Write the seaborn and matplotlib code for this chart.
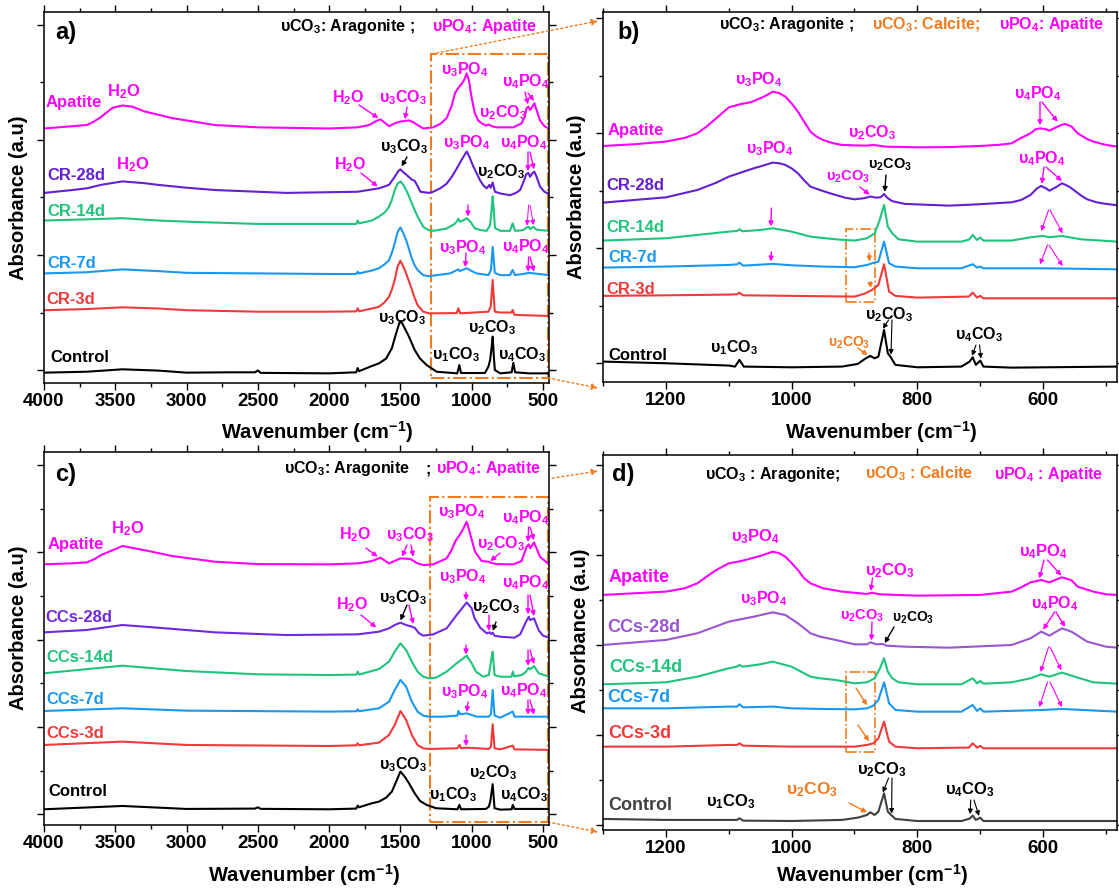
import matplotlib
matplotlib.use('Agg')
import matplotlib.pyplot as plt
import seaborn as sns
import pandas as pd
from matplotlib.ticker import MultipleLocator
from matplotlib.patches import Rectangle

# ---------------- data (wavenumber cm-1, stacked absorbance a.u.) ----------------
A_APATITE = [(4000,2.10),(3800,2.12),(3700,2.13),(3650,2.16),(3600,2.20),(3520,2.28),(3450,2.30),(3380,2.29),(3300,2.25),(3200,2.22),(3100,2.19),(2950,2.16),(2800,2.13),(2500,2.11),(2000,2.10),(1800,2.11),(1720,2.13),(1670,2.165),(1640,2.18),(1610,2.15),(1580,2.12),(1530,2.15),(1500,2.16),(1440,2.17),(1410,2.155),(1380,2.13),(1340,2.10),(1270,2.11),(1220,2.14),(1176,2.19),(1140,2.30),(1117,2.41),(1090,2.46),(1070,2.49),(1050,2.53),(1035,2.58),(1020,2.52),(1005,2.40),(990,2.30),(977,2.23),(955,2.17),(930,2.145),(900,2.125),(880,2.135),(860,2.12),(825,2.11),(708,2.11),(650,2.145),(630,2.20),(615,2.275),(603,2.29),(591,2.26),(575,2.29),(561,2.32),(545,2.26),(521,2.17),(490,2.12),(458,2.10)]
A_CR28 = [(4000,1.54),(3800,1.565),(3700,1.58),(3600,1.61),(3450,1.64),(3300,1.625),(3200,1.61),(3000,1.585),(2800,1.565),(2300,1.54),(1800,1.55),(1700,1.57),(1650,1.58),(1580,1.61),(1540,1.68),(1515,1.73),(1500,1.745),(1480,1.72),(1460,1.70),(1420,1.655),(1400,1.645),(1380,1.60),(1360,1.55),(1300,1.54),(1270,1.55),(1220,1.58),(1176,1.62),(1140,1.68),(1106,1.75),(1070,1.83),(1050,1.87),(1035,1.90),(1015,1.85),(989,1.77),(965,1.71),(942,1.65),(915,1.60),(895,1.58),(876,1.61),(867,1.585),(853,1.63),(837,1.55),(800,1.535),(732,1.52),(690,1.54),(661,1.565),(635,1.64),(619,1.70),(603,1.715),(591,1.68),(575,1.71),(561,1.725),(545,1.68),(521,1.595),(490,1.55),(458,1.53)]
A_CR14 = [(4000,1.30),(3700,1.31),(3450,1.32),(3200,1.30),(3000,1.29),(2500,1.27),(2000,1.27),(1810,1.27),(1800,1.30),(1790,1.275),(1700,1.30),(1650,1.335),(1610,1.37),(1580,1.42),(1560,1.48),(1540,1.565),(1520,1.62),(1500,1.64),(1480,1.61),(1460,1.565),(1440,1.51),(1420,1.45),(1400,1.39),(1380,1.335),(1340,1.245),(1300,1.215),(1270,1.21),(1176,1.23),(1120,1.27),(1106,1.29),(1094,1.315),(1085,1.29),(1060,1.30),(1035,1.32),(1010,1.29),(977,1.23),(930,1.215),(895,1.21),(871,1.26),(860,1.40),(853,1.51),(845,1.38),(837,1.235),(800,1.21),(732,1.21),(713,1.275),(696,1.21),(640,1.215),(615,1.24),(600,1.245),(591,1.225),(568,1.245),(545,1.22),(458,1.21)]
A_CR7 = [(4000,0.84),(3700,0.85),(3450,0.875),(3200,0.86),(3000,0.845),(2000,0.835),(1810,0.835),(1800,0.855),(1790,0.84),(1700,0.865),(1650,0.885),(1610,0.92),(1580,0.955),(1560,1.02),(1540,1.10),(1520,1.20),(1500,1.24),(1480,1.19),(1460,1.13),(1440,1.05),(1420,0.97),(1400,0.91),(1380,0.87),(1340,0.825),(1300,0.815),(1246,0.825),(1152,0.84),(1094,0.875),(1085,0.86),(1035,0.885),(1000,0.86),(965,0.84),(883,0.825),(865,0.87),(853,1.07),(845,0.95),(838,0.845),(800,0.825),(732,0.825),(713,0.87),(696,0.825),(615,0.84),(600,0.845),(565,0.84),(458,0.825)]
A_CR3 = [(4000,0.52),(3700,0.53),(3450,0.545),(3200,0.535),(3000,0.52),(2500,0.507),(2000,0.507),(1810,0.51),(1800,0.537),(1790,0.51),(1700,0.535),(1650,0.55),(1610,0.59),(1580,0.637),(1560,0.70),(1540,0.783),(1520,0.90),(1500,0.95),(1480,0.90),(1460,0.84),(1440,0.77),(1420,0.70),(1400,0.625),(1380,0.565),(1340,0.507),(1300,0.493),(1270,0.493),(1105,0.495),(1094,0.537),(1080,0.493),(883,0.507),(867,0.55),(853,0.783),(845,0.62),(838,0.507),(800,0.50),(720,0.50),(713,0.522),(700,0.48),(600,0.475),(458,0.47)]
A_CONTROL = [(4000,-0.023),(3700,-0.015),(3450,0.006),(3200,-0.005),(3000,-0.023),(2700,-0.02),(2520,-0.02),(2500,-0.004),(2480,-0.025),(2000,-0.029),(1810,-0.02),(1800,0.017),(1790,-0.01),(1700,0.035),(1650,0.058),(1600,0.10),(1560,0.19),(1530,0.32),(1510,0.40),(1500,0.426),(1485,0.40),(1470,0.363),(1440,0.29),(1400,0.174),(1363,0.10),(1316,0.043),(1246,-0.015),(1101,-0.029),(1087,0.043),(1075,-0.026),(907,-0.026),(883,0.029),(871,0.087),(860,0.20),(853,0.29),(845,0.12),(838,0.0),(800,-0.029),(720,-0.02),(708,0.063),(696,-0.02),(600,-0.029),(458,-0.029)]

B_APATITE = [(1300,1.890),(1250,1.905),(1200,1.928),(1170,1.96),(1150,2.00),(1135,2.06),(1120,2.13),(1100,2.226),(1080,2.255),(1065,2.27),(1050,2.304),(1040,2.33),(1030,2.362),(1020,2.35),(1010,2.319),(1000,2.26),(990,2.188),(980,2.10),(970,2.014),(960,1.97),(950,1.942),(935,1.915),(920,1.899),(900,1.895),(880,1.893),(870,1.899),(850,1.884),(800,1.878),(750,1.88),(700,1.890),(670,1.90),(650,1.913),(635,1.96),(620,2.0),(612,2.035),(605,2.043),(595,2.035),(590,2.023),(580,2.05),(570,2.075),(565,2.081),(555,2.06),(545,2.0),(530,1.95),(520,1.928),(500,1.899),(482,1.884)]
B_CR28 = [(1300,1.397),(1250,1.42),(1200,1.443),(1150,1.507),(1120,1.57),(1100,1.623),(1080,1.66),(1060,1.696),(1045,1.72),(1030,1.745),(1020,1.74),(1010,1.725),(1000,1.695),(990,1.652),(980,1.59),(970,1.536),(955,1.507),(940,1.48),(930,1.464),(915,1.44),(900,1.426),(885,1.435),(875,1.45),(865,1.44),(858,1.445),(853,1.472),(848,1.44),(840,1.41),(820,1.386),(750,1.371),(712,1.38),(650,1.40),(635,1.42),(620,1.464),(610,1.52),(603,1.542),(595,1.52),(590,1.501),(580,1.53),(570,1.565),(560,1.54),(555,1.522),(540,1.46),(530,1.426),(515,1.40),(500,1.386),(482,1.374)]
B_CR14 = [(1300,1.067),(1200,1.087),(1150,1.116),(1100,1.145),(1087,1.15),(1083,1.165),(1078,1.148),(1050,1.159),(1030,1.174),(1000,1.145),(970,1.101),(930,1.078),(900,1.067),(880,1.087),(868,1.13),(860,1.246),(853,1.377),(847,1.188),(840,1.13),(830,1.078),(800,1.058),(730,1.058),(718,1.075),(712,1.116),(705,1.072),(700,1.093),(695,1.067),(650,1.067),(620,1.096),(600,1.107),(590,1.096),(570,1.107),(540,1.078),(482,1.058)]
B_CR7 = [(1300,0.832),(1200,0.841),(1100,0.855),(1087,0.86),(1083,0.875),(1077,0.849),(1030,0.864),(1000,0.852),(950,0.841),(900,0.835),(880,0.855),(872,0.870),(862,0.884),(853,1.058),(845,0.870),(835,0.841),(800,0.826),(730,0.826),(712,0.861),(705,0.832),(700,0.841),(695,0.826),(600,0.826),(482,0.817)]
B_CR3 = [(1300,0.586),(1200,0.591),(1100,0.597),(1087,0.60),(1083,0.614),(1077,0.591),(1000,0.586),(900,0.580),(885,0.603),(872,0.638),(862,0.681),(853,0.861),(845,0.623),(835,0.586),(800,0.571),(718,0.58),(712,0.614),(705,0.571),(700,0.586),(695,0.565),(482,0.565)]
B_CONTROL = [(1300,0.0145),(1200,0.0),(1100,-0.020),(1090,-0.029),(1083,0.029),(1076,-0.029),(1000,-0.035),(920,-0.029),(895,-0.006),(882,0.043),(875,0.064),(868,0.043),(862,0.058),(853,0.290),(847,0.087),(843,0.058),(835,-0.014),(800,-0.035),(730,-0.029),(717,0.014),(712,0.052),(707,-0.014),(700,0.023),(695,-0.029),(650,-0.038),(482,-0.029)]

C_APATITE = [(4000,2.863),(3800,2.875),(3700,2.885),(3650,2.92),(3600,2.969),(3450,3.073),(3300,3.027),(3100,2.958),(2800,2.893),(2500,2.866),(2000,2.863),(1800,2.874),(1700,2.901),(1640,2.939),(1580,2.874),(1500,2.931),(1430,2.924),(1380,2.874),(1340,2.855),(1270,2.863),(1176,2.931),(1140,3.03),(1117,3.122),(1070,3.237),(1035,3.351),(1012,3.218),(977,3.008),(930,2.901),(880,2.893),(865,2.88),(825,2.866),(708,2.863),(650,2.901),(615,3.065),(600,3.092),(590,3.046),(563,3.115),(521,2.950),(458,2.863)]
C_CCS28 = [(4000,2.084),(3700,2.111),(3450,2.168),(3200,2.137),(2800,2.084),(2300,2.053),(1800,2.061),(1650,2.092),(1580,2.130),(1540,2.168),(1500,2.195),(1460,2.168),(1420,2.149),(1400,2.137),(1370,2.073),(1340,2.046),(1270,2.061),(1176,2.130),(1106,2.282),(1035,2.427),(1000,2.359),(980,2.244),(940,2.137),(895,2.073),(876,2.084),(865,2.065),(853,2.08),(840,2.046),(800,2.034),(700,2.023),(660,2.061),(619,2.206),(600,2.263),(591,2.225),(563,2.244),(530,2.107),(500,2.046),(458,2.023)]
C_CCS14 = [(4000,1.615),(3450,1.702),(3000,1.641),(2500,1.603),(2000,1.595),(1810,1.60),(1800,1.634),(1790,1.60),(1650,1.664),(1580,1.748),(1540,1.863),(1500,1.958),(1460,1.882),(1420,1.748),(1380,1.634),(1340,1.576),(1300,1.557),(1250,1.565),(1176,1.634),(1106,1.729),(1035,1.817),(1000,1.729),(970,1.634),(920,1.576),(880,1.595),(860,1.80),(853,1.863),(845,1.70),(840,1.595),(800,1.576),(720,1.576),(712,1.634),(700,1.58),(650,1.595),(619,1.634),(600,1.679),(590,1.660),(563,1.698),(530,1.615),(458,1.576)]
C_CCS7 = [(4000,1.183),(3450,1.214),(3000,1.187),(2000,1.176),(1810,1.18),(1800,1.202),(1790,1.18),(1650,1.214),(1580,1.290),(1540,1.424),(1500,1.538),(1460,1.462),(1420,1.290),(1380,1.176),(1340,1.130),(1300,1.118),(1200,1.118),(1100,1.13),(1094,1.183),(1080,1.145),(1035,1.156),(965,1.118),(880,1.118),(865,1.145),(853,1.424),(840,1.13),(800,1.107),(712,1.176),(700,1.118),(615,1.118),(458,1.118)]
C_CCS3 = [(4000,0.794),(3450,0.832),(3000,0.794),(2000,0.782),(1810,0.79),(1800,0.813),(1790,0.79),(1650,0.821),(1580,0.908),(1540,1.023),(1500,1.183),(1460,1.080),(1420,0.908),(1380,0.794),(1340,0.756),(1300,0.748),(1100,0.756),(1085,0.794),(1075,0.756),(1035,0.763),(880,0.748),(865,0.775),(853,1.031),(840,0.756),(800,0.744),(712,0.786),(700,0.744),(458,0.737)]
C_CONTROL = [(4000,0.057),(3450,0.095),(3000,0.061),(2520,0.065),(2500,0.08),(2480,0.062),(2000,0.057),(1810,0.065),(1800,0.099),(1790,0.08),(1700,0.126),(1650,0.145),(1600,0.191),(1560,0.260),(1530,0.374),(1500,0.489),(1470,0.431),(1440,0.355),(1400,0.240),(1363,0.153),(1316,0.107),(1250,0.069),(1100,0.057),(1087,0.107),(1075,0.057),(900,0.061),(880,0.088),(870,0.145),(853,0.344),(840,0.069),(800,0.053),(720,0.057),(712,0.107),(700,0.061),(458,0.061)]

D_APATITE = [(1300,2.556),(1200,2.593),(1170,2.63),(1150,2.685),(1135,2.76),(1120,2.833),(1100,2.907),(1080,2.933),(1050,2.989),(1030,3.037),(1020,3.02),(1010,2.981),(1000,2.91),(990,2.833),(980,2.74),(970,2.685),(950,2.630),(920,2.593),(880,2.567),(872,2.581),(860,2.563),(800,2.548),(700,2.556),(650,2.593),(635,2.64),(620,2.696),(603,2.722),(590,2.696),(570,2.752),(555,2.72),(545,2.648),(520,2.593),(500,2.563),(482,2.556)]
D_CCS28 = [(1300,2.0),(1200,2.056),(1150,2.130),(1100,2.259),(1060,2.315),(1030,2.363),(1010,2.333),(990,2.241),(970,2.130),(955,2.093),(930,2.056),(900,2.007),(880,2.007),(875,2.030),(865,2.007),(855,2.011),(850,1.993),(820,1.981),(750,1.970),(650,2.0),(620,2.074),(603,2.148),(590,2.104),(570,2.185),(555,2.148),(530,2.037),(500,1.981),(482,1.970)]
D_CCS14 = [(1300,1.563),(1200,1.585),(1150,1.648),(1100,1.741),(1087,1.76),(1083,1.778),(1078,1.759),(1050,1.785),(1030,1.815),(1000,1.759),(970,1.648),(955,1.630),(930,1.611),(900,1.574),(880,1.585),(868,1.630),(860,1.733),(853,1.852),(847,1.704),(840,1.630),(830,1.585),(800,1.563),(730,1.563),(712,1.630),(705,1.574),(700,1.6),(695,1.570),(650,1.585),(620,1.630),(603,1.674),(590,1.648),(570,1.693),(545,1.637),(520,1.585),(482,1.570)]
D_CCS7 = [(1300,1.296),(1200,1.296),(1100,1.315),(1087,1.315),(1083,1.341),(1077,1.307),(1030,1.315),(1000,1.296),(950,1.289),(900,1.285),(880,1.296),(870,1.326),(862,1.389),(853,1.585),(845,1.352),(835,1.278),(800,1.259),(730,1.259),(712,1.333),(705,1.267),(700,1.296),(695,1.259),(600,1.278),(570,1.289),(482,1.259)]
D_CCS3 = [(1300,0.870),(1200,0.870),(1100,0.889),(1087,0.889),(1083,0.907),(1077,0.881),(1000,0.870),(900,0.870),(880,0.889),(870,0.907),(862,0.963),(853,1.148),(845,0.926),(835,0.870),(800,0.852),(718,0.86),(712,0.907),(705,0.859),(700,0.878),(695,0.852),(482,0.852)]
D_CONTROL = [(1300,0.067),(1200,0.056),(1100,0.056),(1087,0.056),(1083,0.074),(1077,0.048),(1000,0.044),(920,0.056),(895,0.081),(880,0.111),(875,0.141),(868,0.111),(862,0.148),(853,0.352),(847,0.148),(843,0.119),(835,0.067),(800,0.044),(730,0.044),(717,0.07),(712,0.104),(707,0.056),(700,0.081),(695,0.044),(482,0.044)]

LABELS_CR = ["Apatite", "CR-28d", "CR-14d", "CR-7d", "CR-3d", "Control"]
LABELS_CC = ["Apatite", "CCs-28d", "CCs-14d", "CCs-7d", "CCs-3d", "Control"]

# ---------------- style ----------------
sns.set_theme(style='ticks')
plt.rcParams['font.family'] = ['Liberation Sans', 'DejaVu Sans']
plt.rcParams['font.weight'] = 'bold'
plt.rcParams['mathtext.fontset'] = 'custom'
plt.rcParams['mathtext.rm'] = 'Liberation Sans:bold'
plt.rcParams['mathtext.it'] = 'Liberation Sans:bold'
plt.rcParams['mathtext.bf'] = 'Liberation Sans:bold'
plt.rcParams['mathtext.default'] = 'rm'

MAG = '#ff00ff'
PUR = '#6420d0'
PUR_C = '#7028e0'
PUR_D = '#9a55d0'
GRN = '#1fc47c'
BLU = '#1a98f0'
RED = '#f03a3a'
ORG = '#f07a1e'
BLK = '#000000'
GRY = '#404040'

W, H = 1119, 889
fig = plt.figure(figsize=(W / 100, H / 100), dpi=100)
fig.patch.set_facecolor('white')

def make_ax(l, r, t, b):
    return fig.add_axes([l / W, (H - b) / H, (r - l) / W, (b - t) / H])

def v(n, g, s):
    return 'υ$_{%s}$%s$_{%s}$' % (n, g, s)

V3CO3, V1CO3, V2CO3, V4CO3 = v(3, 'CO', 3), v(1, 'CO', 3), v(2, 'CO', 3), v(4, 'CO', 3)
V3PO4, V4PO4 = v(3, 'PO', 4), v(4, 'PO', 4)
H2O = 'H$_2$O'

def txt(x, y, s, c, fs=11.5, ha='left'):
    fig.text(x / W, 1 - y / H, s, color=c, fontsize=fs, fontweight='bold', ha=ha, va='center')

def arr(ax, x0, y0, wn, val, c, lw=1.0, ms=7):
    ax.annotate('', xy=(wn, val), xycoords='data', xytext=(x0, H - y0), textcoords='figure pixels',
                arrowprops=dict(arrowstyle='-|>', color=c, lw=lw, mutation_scale=ms,
                                shrinkA=0, shrinkB=0))

def connector(x0, y0, x1, y1):
    fig.axes[0].annotate('', xy=(x1, H - y1), xycoords='figure pixels', xytext=(x0, H - y0),
                         textcoords='figure pixels',
                         arrowprops=dict(arrowstyle='-|>', color=ORG, lw=1.0, linestyle=(0, (1.5, 2)),
                                         mutation_scale=9, shrinkA=0, shrinkB=0))

def draw(ax, pts, color, lw=1.5):
    df = pd.DataFrame(pts, columns=['wn', 'ab'])
    sns.lineplot(data=df, x='wn', y='ab', ax=ax, color=color, lw=lw, estimator=None,
                 solid_joinstyle='round')

def style(ax, xlim, ylim, xmaj, xmin, xlabel_pos, ylabel_pos):
    ax.set_xlim(*xlim)
    ax.set_ylim(*ylim)
    ax.xaxis.set_major_locator(MultipleLocator(xmaj))
    ax.xaxis.set_minor_locator(MultipleLocator(xmin))
    ax.yaxis.set_major_locator(MultipleLocator(1))
    ax.yaxis.set_minor_locator(MultipleLocator(0.5))
    ax.tick_params(which='both', direction='out', top=True, right=True, labelleft=False,
                   labeltop=False, labelright=False, width=1.0, colors='black')
    ax.tick_params(which='major', length=5, labelsize=13.5, pad=2)
    ax.tick_params(which='minor', length=3)
    for t in ax.get_xticklabels():
        t.set_fontweight('bold')
    for s in ax.spines.values():
        s.set_color('black')
        s.set_linewidth(1.1)
    ax.set_xlabel('Wavenumber (cm$^{-1}$)', fontsize=14.5, fontweight='bold', color='black')
    ax.set_ylabel('Absorbance (a.u)', fontsize=14.5, fontweight='bold', color='black')
    ax.xaxis.set_label_coords(*xlabel_pos)
    ax.xaxis.label.set_va('center')
    ax.yaxis.set_label_coords(*ylabel_pos)
    ax.yaxis.label.set_va('center')
    ax.set_facecolor('white')

# ---------------- panel a ----------------
axA = make_ax(44, 549, 12, 383)
for pts, c in zip([A_APATITE, A_CR28, A_CR14, A_CR7, A_CR3, A_CONTROL], [MAG, PUR, GRN, BLU, RED, BLK]):
    draw(axA, pts, c)
style(axA, (4000, 458), (-0.113, 3.113), 500, 250, ((317 - 44) / 505, -(432 - 383) / 371),
      (-(44 - 19) / 505, 0.5))
axA.add_patch(Rectangle((1285, -0.07), 465 - 1285, 2.818, fill=False, ec=ORG, lw=1.5, ls='-.'))

# ---------------- panel b ----------------
axB = make_ax(603, 1117, 12, 382)
for pts, c in zip([B_APATITE, B_CR28, B_CR14, B_CR7, B_CR3, B_CONTROL], [MAG, PUR, GRN, BLU, RED, BLK]):
    draw(axB, pts, c)
style(axB, (1300, 482.5), (-0.163, 3.055), 200, 100, ((881 - 603) / 514, -(432 - 382) / 370),
      (-(603 - 577) / 514, 0.5))
axB.add_patch(Rectangle((913, 0.533), 867 - 913, 0.635, fill=False, ec=ORG, lw=1.2, ls='-.'))

# ---------------- panel c ----------------
axC = make_ax(44, 549, 452, 825)
for pts, c in zip([C_APATITE, C_CCS28, C_CCS14, C_CCS7, C_CCS3, C_CONTROL], [MAG, PUR_C, GRN, BLU, RED, BLK]):
    draw(axC, pts, c)
style(axC, (4000, 458), (-0.123, 4.150), 500, 250, ((304 - 44) / 505, -(875 - 825) / 373),
      (-(44 - 19) / 505, (825 - 628) / 373))
axC.add_patch(Rectangle((1292, -0.088), 465 - 1292, 3.723, fill=False, ec=ORG, lw=1.5, ls='-.'))

# ---------------- panel d ----------------
axD = make_ax(603, 1117, 455, 830)
for pts, c in zip([D_APATITE, D_CCS28, D_CCS14, D_CCS7, D_CCS3, D_CONTROL], [MAG, PUR_D, GRN, BLU, RED, GRY]):
    draw(axD, pts, c)
style(axD, (1300, 482.5), (-0.056, 4.111), 200, 100, ((872 - 603) / 514, -(875 - 830) / 375),
      (-(603 - 580) / 514, (830 - 631) / 375))
axD.add_patch(Rectangle((914, 0.81), 867 - 914, 0.89, fill=False, ec=ORG, lw=1.2, ls='-.'))

# connectors between zoom boxes
connector(432, 54, 598, 21)
connector(548, 378, 598, 388)
connector(432, 497, 598, 471)
connector(548, 822, 598, 832)

# ---------------- texts: panel a ----------------
txt(55, 33, 'a)', BLK, 17)
txt(280, 27, 'υCO$_3$: Aragonite ; ', BLK, 11.5)
txt(432, 27, 'υPO$_4$: Apatite', MAG, 11.5)
for s, c, x, y in zip(LABELS_CR, [MAG, PUR, GRN, BLU, RED, BLK], [46, 47, 47, 47, 46, 50], [102, 175, 212, 263, 300, 357]):
    txt(x, y, s, c, 12)
txt(107, 92, H2O, MAG, 12)
txt(116, 165, H2O, MAG, 12)
txt(332, 98, H2O, MAG); txt(379, 98, V3CO3, MAG); txt(441, 70, V3PO4, MAG)
txt(479, 113, V2CO3, MAG); txt(502, 82, V4PO4, MAG)
txt(380, 147, V3CO3, BLK); txt(334, 165, H2O, MAG); txt(443, 143, V3PO4, MAG)
txt(477, 172, V2CO3, BLK); txt(500, 143, V4PO4, MAG)
txt(439, 248, V3PO4, MAG); txt(502, 247, V4PO4, MAG)
txt(378, 318, V3CO3, BLK); txt(432, 355, V1CO3, BLK); txt(468, 328, V2CO3, BLK); txt(498, 355, V4CO3, BLK)
arr(axA, 359, 105, 1655, 2.19, MAG)
arr(axA, 407, 107, 1468, 2.18, MAG)
arr(axA, 525, 92, 605, 2.31, MAG); arr(axA, 528, 93, 563, 2.34, MAG)
arr(axA, 407, 157, 1492, 1.77, BLK)
arr(axA, 361, 173, 1660, 1.595, MAG)
arr(axA, 528, 152, 605, 1.73, MAG); arr(axA, 530, 152, 563, 1.745, MAG)
arr(axA, 468, 205, 1027, 1.335, MAG)
arr(axA, 528.6, 205, 612, 1.255, MAG, 0.7); arr(axA, 530, 205, 566, 1.26, MAG, 0.7)
arr(axA, 466, 253, 1045, 0.895, MAG)
arr(axA, 528.6, 257, 605, 0.855, MAG); arr(axA, 530, 257, 563, 0.855, MAG)

# ---------------- texts: panel b ----------------
txt(617, 33, 'b)', BLK, 17)
txt(719, 25, 'υCO$_3$: Aragonite ;', BLK, 11.5)
txt(872, 25, 'υCO$_3$: Calcite;', ORG, 11.5)
txt(999, 25, 'υPO$_4$: Apatite', MAG, 11.5)
for s, c, x, y in zip(LABELS_CR, [MAG, PUR, GRN, BLU, RED, BLK], [608, 606, 606, 608, 606, 608], [130, 186, 228, 258, 289, 355]):
    txt(x, y, s, c, 12)
txt(735, 80, V3PO4, MAG); txt(847.5, 133, V2CO3, MAG); txt(1014, 94, V4PO4, MAG)
txt(746, 149, V3PO4, MAG); txt(826, 177, V2CO3, MAG, 10.5); txt(868, 165, V2CO3, BLK, 10.5)
txt(1018, 159, V4PO4, MAG)
txt(710, 348, V1CO3, BLK); txt(828, 343, V2CO3, ORG, 10); txt(865, 315, V2CO3, BLK); txt(955, 335, V4CO3, BLK)
arr(axB, 1040, 102, 605, 2.07, MAG); arr(axB, 1042, 102, 577, 2.10, MAG)
arr(axB, 860, 187, 876, 1.465, MAG)
arr(axB, 886, 175, 852, 1.49, BLK)
arr(axB, 1044, 167, 602, 1.56, MAG); arr(axB, 1046, 167, 570, 1.585, MAG)
arr(axB, 771.4, 208, 1033, 1.19, MAG)
arr(axB, 1048.6, 210, 603, 1.15, MAG, 0.8); arr(axB, 1050, 210, 569, 1.13, MAG, 0.8)
arr(axB, 771.4, 252, 1033, 0.885, MAG)
arr(axB, 1047.5, 245, 605, 0.86, MAG, 0.8); arr(axB, 1049, 245, 569, 0.845, MAG, 0.8)
arr(axB, 869, 253, 876, 0.885, ORG)
arr(axB, 870, 282, 874, 0.655, ORG)
arr(axB, 858, 348, 879, 0.07, ORG)
arr(axB, 888.6, 320, 855, 0.30, BLK, 0.8); arr(axB, 892, 320, 842, 0.075, BLK, 0.8)
arr(axB, 976, 345, 713, 0.065, BLK, 0.8); arr(axB, 979.6, 345, 699, 0.04, BLK, 0.8)

# ---------------- texts: panel c ----------------
txt(55, 475, 'c)', BLK, 17)
txt(284, 469, 'υCO$_3$: Aragonite', BLK, 11.5)
txt(426, 469, ';', BLK, 11.5)
txt(436, 469, 'υPO$_4$: Apatite', MAG, 11.5)
for s, c, x, y in zip(LABELS_CC, [MAG, PUR_C, GRN, BLU, RED, BLK], [48, 45, 46, 46, 46, 48], [545, 617, 657, 700, 734, 792]):
    txt(x, y, s, c, 12)
txt(111, 529, H2O, MAG, 12)
txt(339, 535, H2O, MAG); txt(386, 535, V3CO3, MAG); txt(437.5, 512, V3PO4, MAG)
txt(477, 544, V2CO3, MAG); txt(502, 518, V4PO4, MAG)
txt(336, 605, H2O, MAG); txt(379, 598, V3CO3, BLK); txt(439, 577, V3PO4, MAG)
txt(472, 607, V2CO3, BLK); txt(502, 583, V4PO4, MAG)
txt(441, 692, V3PO4, MAG); txt(500, 691, V4PO4, MAG)
txt(379, 765, V3CO3, BLK); txt(429, 795, V1CO3, BLK); txt(468.6, 773, V2CO3, BLK); txt(500, 795, V4CO3, BLK)
arr(axC, 366, 548, 1660, 2.95, MAG)
arr(axC, 407, 545, 1489, 2.95, MAG); arr(axC, 411, 545, 1410, 2.95, MAG)
arr(axC, 500, 553, 870, 2.90, MAG)
arr(axC, 528.6, 527, 605, 3.12, MAG); arr(axC, 530, 527, 563, 3.14, MAG)
arr(axC, 361, 615, 1670, 2.14, MAG)
arr(axC, 407, 605, 1500, 2.22, BLK); arr(axC, 409, 605, 1410, 2.18, MAG)
arr(axC, 466, 592, 1040, 2.45, MAG)
arr(axC, 489, 615, 880, 2.10, MAG); arr(axC, 496, 622, 852, 2.10, BLK)
arr(axC, 528, 595, 605, 2.29, MAG); arr(axC, 530, 595, 563, 2.27, MAG)
arr(axC, 466, 645, 1040, 1.83, MAG)
arr(axC, 528, 650, 605, 1.70, MAG); arr(axC, 530, 650, 563, 1.72, MAG)
arr(axC, 468, 702, 1035, 1.17, MAG)
arr(axC, 528, 700, 605, 1.14, MAG); arr(axC, 530, 700, 563, 1.14, MAG)
arr(axC, 466, 735, 1040, 0.78, MAG)

# ---------------- texts: panel d ----------------
txt(612, 475, 'd)', BLK, 17)
txt(705, 474, 'υCO$_3$ : Aragonite;', BLK, 11.5)
txt(865, 474, 'υCO$_3$ : Calcite', ORG, 11.5)
txt(994, 474, 'υPO$_4$ : Apatite', MAG, 11.5)
for s, c, x, y in zip(LABELS_CC, [MAG, PUR_D, GRN, BLU, RED, GRY], [609, 607.5, 609, 607.5, 608, 608], [578, 627, 668, 697, 734, 805]):
    txt(x, y, s, c, 13)
txt(731, 537, V3PO4, MAG, 12); txt(865, 571, V2CO3, MAG, 12); txt(1019, 552, V4PO4, MAG, 12)
txt(740, 599, V3PO4, MAG); txt(840, 616, V2CO3, MAG, 10.5); txt(892, 618, V2CO3, BLK, 10)
txt(1031, 604, V4PO4, MAG)
txt(706, 802, V1CO3, BLK, 12); txt(786, 790, V2CO3, ORG, 12.5); txt(857, 770, V2CO3, BLK, 12); txt(945, 790, V4CO3, BLK, 12)
arr(axD, 872.5, 578, 874, 2.60, MAG)
arr(axD, 1044, 560, 606, 2.74, MAG); arr(axD, 1047.5, 560, 571, 2.77, MAG)
arr(axD, 872, 622, 873, 2.05, MAG)
arr(axD, 894, 627, 852, 2.02, BLK)
arr(axD, 1054.6, 612, 600, 2.17, MAG); arr(axD, 1056, 612, 565, 2.20, MAG)
arr(axD, 1048.6, 647, 604, 1.70, MAG, 0.8); arr(axD, 1050, 647, 571, 1.72, MAG, 0.8)
arr(axD, 1047.5, 682, 606, 1.31, MAG, 0.8); arr(axD, 1050, 682, 570, 1.31, MAG, 0.8)
arr(axD, 856, 688, 880, 1.33, ORG)
arr(axD, 858, 725, 877, 0.93, ORG)
arr(axD, 849, 803, 880, 0.14, ORG)
arr(axD, 888.6, 778, 855, 0.36, BLK, 0.8); arr(axD, 892, 778, 841, 0.125, BLK, 0.8)
arr(axD, 970.7, 800, 716, 0.12, BLK, 0.8); arr(axD, 974, 800, 702, 0.10, BLK, 0.8)

fig.savefig('out.png', dpi=100, facecolor='white')
